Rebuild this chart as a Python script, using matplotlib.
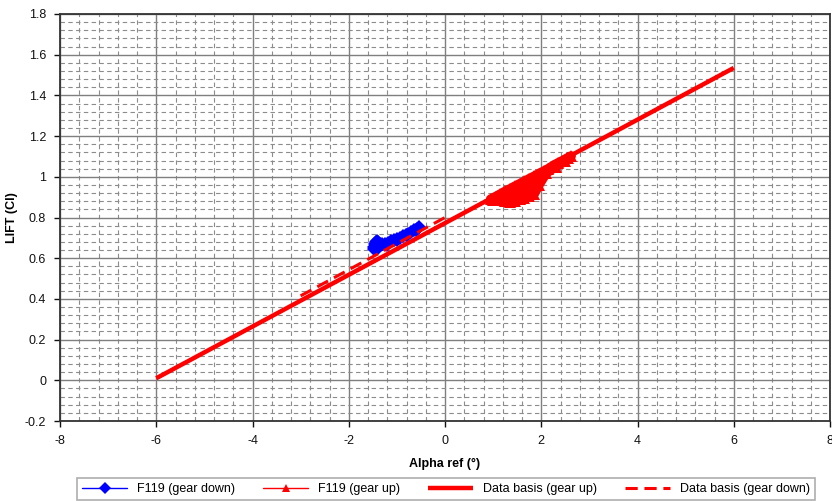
import matplotlib
matplotlib.use("Agg")
import matplotlib.pyplot as plt
from matplotlib.ticker import MultipleLocator

plt.rcParams['font.family'] = ['Liberation Sans', 'DejaVu Sans']

# F119 gear down (blue)
alpha_down = [-1.48, -1.46, -1.44, -1.42, -1.40, -1.36, -1.30, -1.24, -1.18, -1.12, -1.06, -1.00,
              -0.94, -0.88, -0.82, -0.76, -0.70, -0.64, -0.58, -0.53, -0.60, -0.80, -1.00,
              -1.20, -1.40, -1.47]
cl_down = [0.655, 0.670, 0.682, 0.686, 0.678, 0.668, 0.668, 0.672, 0.677, 0.683, 0.689, 0.695,
           0.701, 0.707, 0.714, 0.721, 0.729, 0.737, 0.745, 0.752, 0.738, 0.712, 0.688,
           0.665, 0.650, 0.645]

# F119 gear up (red)
alpha_up = [0.95, 1.05, 1.15, 1.25, 1.35, 1.45, 1.55, 1.65, 1.75, 1.85, 1.95, 2.05, 2.15, 2.25,
            2.35, 2.45, 2.55, 2.62, 2.50, 2.30, 2.10, 1.95, 1.85, 1.75, 1.65, 1.55, 1.45, 1.35,
            1.25, 1.15, 1.05, 1.00, 1.20, 1.40, 1.60, 1.80]
cl_up = [0.890, 0.902, 0.915, 0.928, 0.940, 0.953, 0.965, 0.977, 0.990, 1.002, 1.015, 1.027,
         1.040, 1.055, 1.068, 1.080, 1.093, 1.102, 1.078, 1.050, 1.018, 0.960, 0.915, 0.905,
         0.898, 0.890, 0.882, 0.878, 0.882, 0.888, 0.892, 0.888, 0.905, 0.915, 0.935, 0.960]

# Data basis (gear up)
alpha_basis_up = [-6.0, 6.0]
cl_basis_up = [0.01, 1.535]

# Data basis (gear down)
alpha_basis_down = [-3.0, 0.0]
cl_basis_down = [0.415, 0.800]

fig = plt.figure(figsize=(8.32, 5.01), dpi=100)
ax = fig.add_axes([60/832, 1-421/501, 770/832, 407/501])

ax.plot(alpha_down, cl_down, color='#0000FF', lw=6, marker='D', markersize=7,
        markeredgewidth=0, solid_joinstyle='round', solid_capstyle='round',
        label='F119 (gear down)', zorder=3)
ax.plot(alpha_up, cl_up, color='#FF0000', lw=7, marker='^', markersize=8,
        markeredgewidth=0, solid_joinstyle='round', solid_capstyle='round',
        label='F119 (gear up)', zorder=3)
ax.plot(alpha_basis_up, cl_basis_up, color='#FF0000', lw=3.2, solid_capstyle='butt',
        label='Data basis (gear up)', zorder=4)
ax.plot(alpha_basis_down, cl_basis_down, color='#FF0000', lw=2.2, dashes=(4, 2.2),
        label='Data basis (gear down)', zorder=4)

ax.set_xlim(-8, 8)
ax.set_ylim(-0.2, 1.8)
ax.xaxis.set_major_locator(MultipleLocator(2))
ax.yaxis.set_major_locator(MultipleLocator(0.2))
ax.xaxis.set_minor_locator(MultipleLocator(0.4))
ax.yaxis.set_minor_locator(MultipleLocator(0.04))
ax.grid(which='major', color='#7f7f7f', lw=1.0, linestyle='-', zorder=1)
ax.grid(which='minor', color='#8c8c8c', lw=0.8, linestyle=(0, (4, 3)), zorder=1)
ax.set_axisbelow(True)

ax.set_xticks([-8, -6, -4, -2, 0, 2, 4, 6, 8])
ax.set_xticklabels(['-8', '-6', '-4', '-2', '0', '2', '4', '6', '8'])
ax.set_yticks([-0.2, 0, 0.2, 0.4, 0.6, 0.8, 1.0, 1.2, 1.4, 1.6, 1.8])
ax.set_yticklabels(['-0.2', '0', '0.2', '0.4', '0.6', '0.8', '1', '1.2', '1.4', '1.6', '1.8'])
ax.tick_params(which='major', direction='out', length=4, width=1, labelsize=9,
               colors='#111111', pad=6)
ax.tick_params(which='minor', length=0)

for s in ax.spines.values():
    s.set_color('#333333')
    s.set_linewidth(1.3)

ax.set_xlabel('Alpha ref (°)', fontsize=9, fontweight='bold', labelpad=8)
ax.set_ylabel('LIFT (Cl)', fontsize=9, fontweight='bold')
ax.yaxis.set_label_coords(-42/770, 0.5)

leg = fig.legend(loc='lower left', bbox_to_anchor=(77/832, 1-500/501, (815-77)/832, 29/501),
                 mode='expand', ncol=4, fontsize=9, frameon=True, fancybox=False,
                 edgecolor='#999999', handlelength=3.6, borderaxespad=0, columnspacing=1.5)
leg.get_frame().set_linewidth(1.2)
for h in leg.legend_handles[:2]:
    h.set_markersize(6)
    h.set_linewidth(1)

fig.savefig('out.png', dpi=100)
